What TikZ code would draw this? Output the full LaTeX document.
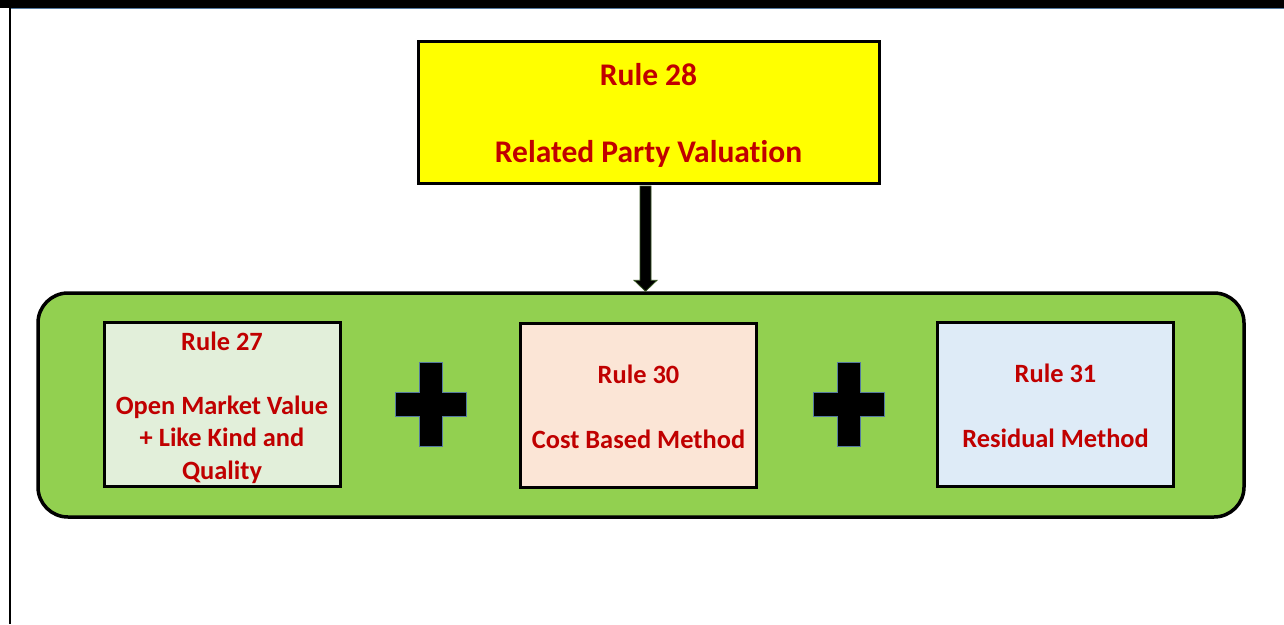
\documentclass[tikz,border=0pt]{standalone}
\usepackage{fontspec}
\setmainfont{Carlito}[Ligatures=NoCommon]
\usetikzlibrary{calc}
\definecolor{rulered}{RGB}{192,0,0}
\definecolor{topyellow}{RGB}{255,255,0}
\definecolor{groupgreen}{RGB}{146,208,80}
\definecolor{palegreen}{RGB}{226,239,218}
\definecolor{palepeach}{RGB}{251,229,214}
\definecolor{paleblue}{RGB}{222,235,247}
\definecolor{edgeblue}{RGB}{84,122,160}
\definecolor{arrowedge}{RGB}{56,87,35}
\tikzset{
  rulebox/.style={draw=black, line width=3pt, minimum width=236pt, minimum height=164pt,
    inner sep=0pt},
  ruletext/.style={inner sep=0pt, align=center, text=rulered,
    font=\fontsize{26.4}{32.2}\selectfont\bfseries},
  headbox/.style={draw=black, line width=3pt, fill=topyellow, minimum width=461pt,
    minimum height=142pt, inner sep=0pt},
  headtext/.style={inner sep=0pt, align=center, text=rulered,
    font=\fontsize{31.5}{38.4}\selectfont\bfseries},
  groupbox/.style={draw=black, line width=3.5pt, fill=groupgreen, rounded corners=30pt,
    minimum width=1206pt, minimum height=224pt, inner sep=0pt},
  plussign/.style={fill=black, draw=edgeblue, line width=0.8pt},
  blockarrow/.style={fill=black, draw=arrowedge, line width=0.8pt}
}
\begin{document}
\begin{tikzpicture}[x=1pt,y=-1pt]
  \useasboundingbox (0,0) rectangle (1284,624);
  % page frame: top bar and left rule
  \fill[black] (0,0) rectangle (1284,8);
  \draw[edgeblue, line width=0.8pt] (11,8.6) -- (1284,8.6);
  \fill[black] (8.5,8) rectangle (11,624);

  % heading box
  \node[headbox] (r28) at (648.5,112) {};
  \node[headtext] (r28t) at ($(r28.center)+(0,3.5)$) {Rule 28\\[38.4pt]Related Party Valuation};

  % group of methods
  \node[groupbox] (grp) at (641,405) {};
  \node[rulebox, fill=palegreen] (r27) at (222,404) {};
  \node[ruletext] (r27t) at ($(r27.center)+(0,3.5)$) {Rule 27\\[32.2pt]Open Market Value\\+ Like Kind and\\Quality};
  \node[rulebox, fill=palepeach] (r30) at (638.5,405) {};
  \node[ruletext] (r30t) at ($(r30.center)+(0,2)$) {Rule 30\\[32.2pt]Cost Based Method};
  \node[rulebox, fill=paleblue] (r31) at (1055.5,404) {};
  \node[ruletext] (r31t) at ($(r31.center)+(0,2)$) {Rule 31\\[32.2pt]Residual Method};

  % plus signs between the boxes
  \coordinate (p1) at (430.5,404);
  \coordinate (p2) at (849,404);
  \foreach \c in {p1,p2}{
    \draw[plussign] ($(\c)+(-11.5,-42)$) -- ($(\c)+(11.5,-42)$) -- ($(\c)+(11.5,-12)$)
      -- ($(\c)+(35.5,-12)$) -- ($(\c)+(35.5,12)$) -- ($(\c)+(11.5,12)$)
      -- ($(\c)+(11.5,42)$) -- ($(\c)+(-11.5,42)$) -- ($(\c)+(-11.5,12)$)
      -- ($(\c)+(-35.5,12)$) -- ($(\c)+(-35.5,-12)$) -- ($(\c)+(-11.5,-12)$) -- cycle;
  }

  % block arrow from the heading down to the group
  \coordinate (at) at ($(r28.south)+(-3,1.5)$);
  \coordinate (ab) at ($(grp.north)+(4.5,0)$);
  \draw[blockarrow] ($(at)+(-5.5,0)$) -- ($(at)+(5.5,0)$) -- ($(ab)+(5.5,-11)$)
    -- ($(ab)+(11.5,-11)$) -- (ab) -- ($(ab)+(-11.5,-11)$) -- ($(ab)+(-5.5,-11)$) -- cycle;
\end{tikzpicture}
\end{document}
